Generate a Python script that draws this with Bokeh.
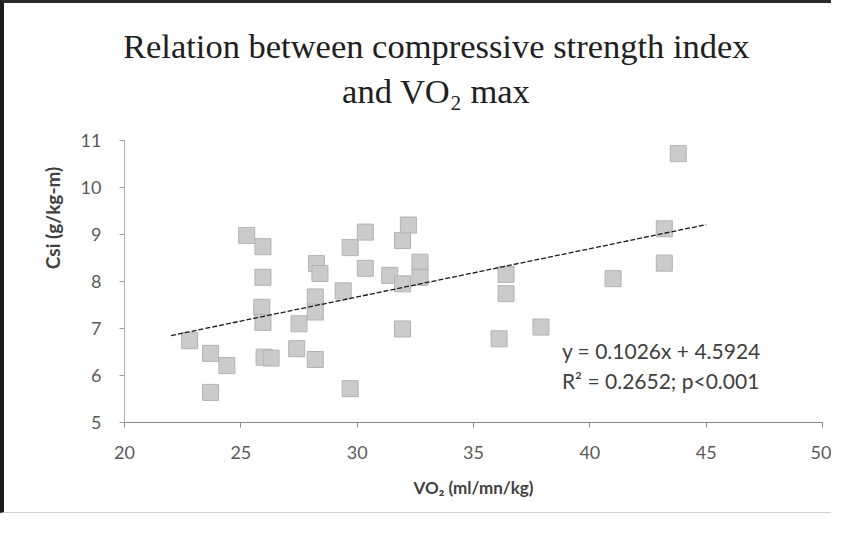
from bokeh.plotting import figure
from bokeh.models import Range1d, SingleIntervalTicker, FixedTicker, Label, ColumnDataSource
from bokeh.embed import file_html
from bokeh.resources import INLINE

# ---- data ----
vo2 = [22.8, 23.7, 23.7, 24.4, 25.25, 25.95, 25.95, 25.9, 25.95, 26.0, 26.3,
       27.4, 27.5, 28.2, 28.25, 28.4, 28.2, 28.2, 29.4, 29.7, 29.7, 30.35,
       30.35, 31.4, 31.95, 32.2, 31.95, 31.95, 32.7, 32.7, 36.1, 36.4, 36.4,
       37.9, 41.0, 43.2, 43.2, 43.8]
csi = [6.74, 6.47, 5.64, 6.21, 8.98, 8.74, 8.09, 7.45, 7.13, 6.39, 6.37,
       6.57, 7.1, 6.34, 8.38, 8.17, 7.67, 7.35, 7.8, 8.72, 5.72, 9.05,
       8.28, 8.13, 8.87, 9.2, 7.95, 6.99, 8.41, 8.09, 6.78, 8.15, 7.74,
       7.03, 8.06, 9.12, 8.39, 10.72]
slope = 0.1026
intercept = 4.5924
trend_x = [22.0, 45.0]
trend_y = [slope * v + intercept for v in trend_x]
y_ticks = [5, 6, 7, 8, 9, 10, 11]

title_lines = ["Relation between compressive strength index", "and VO\u2082 max"]
eq_lines = ["y = 0.1026x + 4.5924", "R\u00b2 = 0.2652; p<0.001"]
x_label = "VO\u2082 (ml/mn/kg)"
y_label = "Csi (g/kg-m)"

W, H = 831, 513
# the frame is extended upward so the two-line title can sit inside it;
# the y axis itself only spans 5..11
p = figure(width=W, height=H, output_backend="svg", toolbar_location=None,
           x_range=Range1d(20, 50), y_range=Range1d(5, 13.70),
           min_border_left=120, min_border_right=13,
           min_border_top=10, min_border_bottom=94)
p.styles = {"border-left": "4px solid #1c1c1c", "border-top": "3px solid #2c2c2c",
            "border-bottom": "1px solid #d0d0d0"}
p.outline_line_color = None
p.grid.visible = False
p.background_fill_color = "white"
p.border_fill_color = "white"

p.xaxis.ticker = SingleIntervalTicker(interval=5)
p.yaxis.ticker = FixedTicker(ticks=y_ticks)
p.yaxis.bounds = (y_ticks[0], y_ticks[-1])
for ax in (p.xaxis, p.yaxis):
    ax.minor_tick_line_color = None
    ax.major_tick_out = 5
    ax.major_tick_in = 0
    ax.major_label_text_font = "Lato"
    ax.major_label_text_font_size = "18px"
    ax.major_label_text_color = "#5a5a5a"
    ax.axis_label_text_font = "Lato"
    ax.axis_label_text_font_style = "bold"
    ax.axis_label_text_color = "#404040"
p.xaxis.axis_label_text_font_size = "17px"
p.yaxis.axis_label_text_font_size = "19px"
p.xaxis.major_label_standoff = 18
p.yaxis.major_label_standoff = 18
p.xaxis.axis_line_color = "#8a8a8a"
p.xaxis.major_tick_line_color = "#8a8a8a"
p.yaxis.axis_line_color = "#b0b0b0"
p.yaxis.major_tick_line_color = "#a0a0a0"
p.xaxis.axis_label = x_label
p.yaxis.axis_label = y_label
p.xaxis.axis_label_standoff = 15
p.yaxis.axis_label_standoff = 14

src = ColumnDataSource(dict(x=vo2, y=csi))
p.scatter("x", "y", source=src, marker="square", size=16,
          fill_color="#c8c8c8", line_color="#b2b2b2", fill_alpha=0.95)

p.line(trend_x, trend_y, line_color="#1a1a1a", line_width=1.3, line_dash="5 2")

# title
p.add_layout(Label(x=33.4, y=13.0, text=title_lines[0], text_align="center",
                   text_baseline="middle", text_font="Liberation Serif",
                   text_font_size="34.5px", text_color="#202020"))
p.add_layout(Label(x=33.4, y=12.06, text=title_lines[1], text_align="center",
                   text_baseline="middle", text_font="Liberation Serif",
                   text_font_size="34.5px", text_color="#202020"))

# equation
p.add_layout(Label(x=38.8, y=6.54, text=eq_lines[0], text_align="left",
                   text_baseline="middle", text_font="Lato",
                   text_font_size="21px", text_color="#404040"))
p.add_layout(Label(x=38.8, y=5.9, text=eq_lines[1], text_align="left",
                   text_baseline="middle", text_font="Lato",
                   text_font_size="21px", text_color="#404040"))

open("out.html", "w").write(file_html(p, INLINE))
